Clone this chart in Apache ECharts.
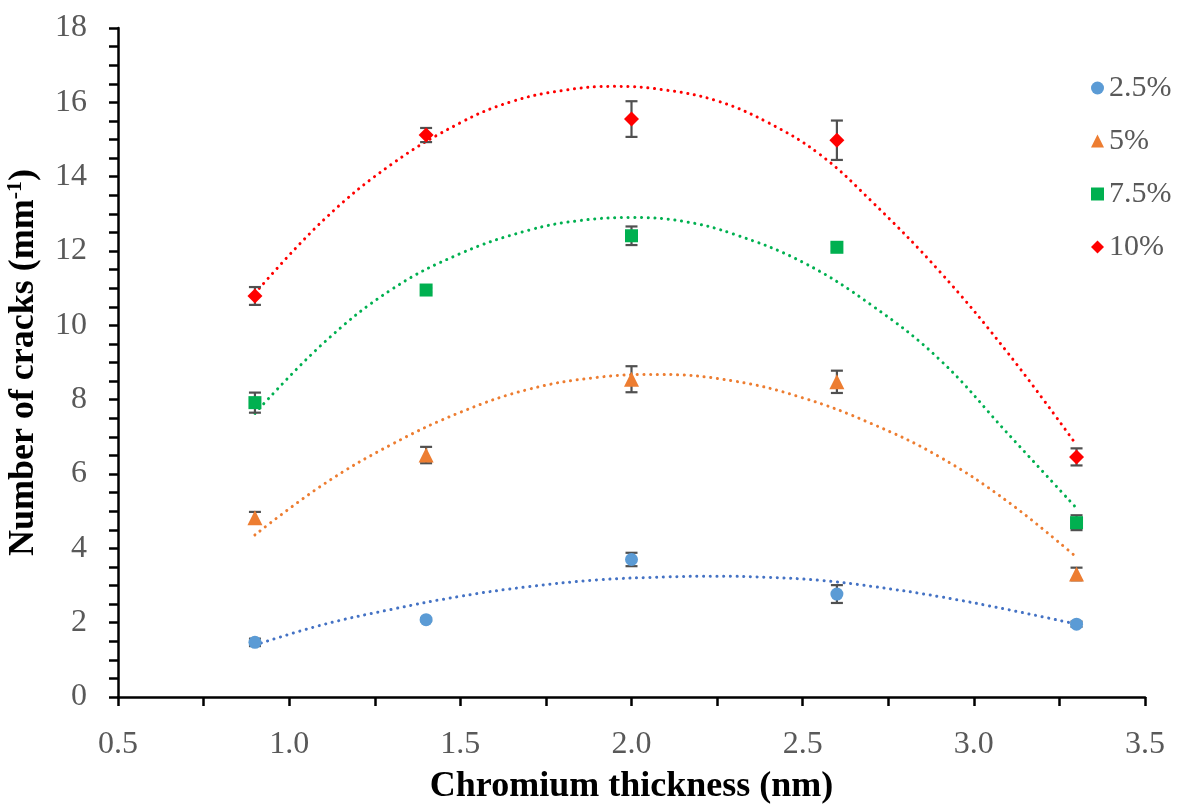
<!DOCTYPE html>
<html>
<head>
<meta charset="utf-8">
<script src="https://cdn.jsdelivr.net/npm/echarts@6/dist/echarts.min.js"></script>
<style>html,body{margin:0;padding:0;background:#fff}#c{width:1184px;height:807px}</style>
</head>
<body>
<div id="c"></div>
<script>
const seriesNames = ['2.5%', '5%', '7.5%', '10%'];
const xValues = [0.9, 1.4, 2.0, 2.6, 3.3];
const y25 = [1.47, 2.08, 3.70, 2.77, 1.96];
const err25 = [0.10, 0.04, 0.18, 0.24, 0.07];
const y5 = [4.82, 6.51, 8.55, 8.48, 3.31];
const err5 = [0.16, 0.22, 0.35, 0.30, 0.17];
const y75 = [7.92, 10.95, 12.41, 12.10, 4.69];
const err75 = [0.27, 0.06, 0.25, 0.10, 0.20];
const y10 = [10.79, 15.12, 15.55, 14.98, 6.46];
const err10 = [0.24, 0.19, 0.48, 0.53, 0.23];

// trend lines
const trend25 = [[0.9,1.40],[1.1,1.95],[1.3,2.36],[1.5,2.71],[1.7,2.97],[1.9,3.15],[2.1,3.23],[2.25,3.25],[2.4,3.22],[2.55,3.14],[2.7,2.98],[2.9,2.70],[3.1,2.35],[3.3,1.96]];
const trend5 = [[0.9,4.36],[1.1,5.72],[1.3,6.80],[1.5,7.66],[1.7,8.28],[1.9,8.60],[2.08,8.68],[2.3,8.50],[2.5,8.05],[2.7,7.36],[2.9,6.46],[3.1,5.25],[3.3,3.76]];
const trend75 = [[0.9,7.63],[1.1,9.52],[1.3,10.97],[1.5,11.93],[1.7,12.56],[1.85,12.82],[2.0,12.90],[2.15,12.80],[2.3,12.45],[2.5,11.70],[2.7,10.55],[2.9,9.08],[3.1,7.08],[3.3,5.08]];
const trend10 = [[0.9,10.86],[1.1,12.83],[1.3,14.34],[1.5,15.45],[1.65,16.02],[1.8,16.32],[1.95,16.43],[2.1,16.33],[2.25,16.04],[2.4,15.45],[2.55,14.60],[2.7,13.35],[2.9,11.45],[3.1,9.25],[3.3,6.78]];

const xTicks = {min: 0.5, max: 3.5, interval: 0.5};
const yTicks = {min: 0, max: 18, interval: 2};

const markerColors = ['#5B9BD5', '#ED7D31', '#00B050', '#FF0000'];
const trendColors = ['#4472C4', '#ED7D31', '#00B050', '#FF0000'];
const symbols = ['circle', 'triangle', 'rect', 'diamond'];
const symbolSizes = [13, 15, 13, 15];
const allY = [y25, y5, y75, y10];
const allErr = [err25, err5, err75, err10];
const allTrend = [trend25, trend5, trend75, trend10];

const serif = 'Liberation Serif';
const series = [];
allTrend.forEach((t, i) => {
  series.push({
    name: seriesNames[i] + ' trend', type: 'line', data: t, smooth: 0.4, showSymbol: false, silent: true,
    lineStyle: {color: trendColors[i], width: 3, type: [0.1, 6.6], cap: 'round'}, z: 2
  });
});
allY.forEach((ys, i) => {
  series.push({
    name: seriesNames[i] + ' err', type: 'custom', silent: true, z: 3,
    data: xValues.map((x, k) => [x, ys[k] - allErr[i][k], ys[k] + allErr[i][k]]),
    renderItem: function (params, api) {
      const x = api.value(0);
      const top = api.coord([x, api.value(2)]);
      const bot = api.coord([x, api.value(1)]);
      const w = 6;
      const st = {stroke: '#505050', lineWidth: 2.2};
      return {type: 'group', children: [
        {type: 'line', shape: {x1: top[0], y1: top[1], x2: bot[0], y2: bot[1]}, style: st},
        {type: 'line', shape: {x1: top[0] - w, y1: top[1], x2: top[0] + w, y2: top[1]}, style: st},
        {type: 'line', shape: {x1: bot[0] - w, y1: bot[1], x2: bot[0] + w, y2: bot[1]}, style: st}
      ]};
    }
  });
});
allY.forEach((ys, i) => {
  series.push({
    name: seriesNames[i], type: 'scatter', z: 4,
    symbol: symbols[i], symbolSize: symbolSizes[i],
    itemStyle: {color: markerColors[i], opacity: 1},
    data: xValues.map((x, k) => [x, ys[k]])
  });
});

const chart = echarts.init(document.getElementById('c'), null, {renderer: 'canvas'});
chart.setOption({
  animation: false,
  backgroundColor: '#ffffff',
  grid: {left: 118, right: 39, top: 28, bottom: 110, containLabel: false, outerBoundsMode: 'none'},
  legend: {
    data: seriesNames.map((n, i) => ({name: n, icon: symbols[i]})),
    orient: 'vertical', left: 1086, top: 67,
    itemWidth: 13, itemHeight: 13, itemGap: 21,
    textStyle: {fontFamily: serif, fontSize: 30, color: '#595959', lineHeight: 32}
  },
  xAxis: {
    type: 'value', min: xTicks.min, max: xTicks.max, interval: xTicks.interval,
    name: 'Chromium thickness (nm)', nameLocation: 'middle', nameGap: 72,
    nameTextStyle: {fontFamily: serif, fontSize: 36, fontWeight: 'bold', color: '#000'},
    axisLine: {lineStyle: {color: '#000', width: 2.5}},
    axisTick: {show: true, length: 9, lineStyle: {color: '#000', width: 2.5}},
    minorTick: {show: true, splitNumber: 2, length: 9, lineStyle: {color: '#000', width: 2.5}},
    splitLine: {show: false},
    axisLabel: {fontFamily: serif, fontSize: 32, color: '#595959', margin: 32, formatter: v => v.toFixed(1)}
  },
  yAxis: {
    type: 'value', min: yTicks.min, max: yTicks.max, interval: yTicks.interval,
    name: '{t|Number of cracks (mm}{s|-1}{t|)}', nameLocation: 'middle', nameGap: 74, nameRotate: 90,
    nameTextStyle: {
      rich: {
        t: {fontFamily: serif, fontSize: 36, fontWeight: 'bold', color: '#000', lineHeight: 40},
        s: {fontFamily: serif, fontSize: 22, fontWeight: 'bold', color: '#000', verticalAlign: 'top', lineHeight: 40, padding: [0, 0, 16, 0]}
      }
    },
    axisLine: {show: true, lineStyle: {color: '#000', width: 2.5}},
    axisTick: {show: true, length: 9, lineStyle: {color: '#000', width: 2.5}},
    minorTick: {show: true, splitNumber: 4, length: 9, lineStyle: {color: '#000', width: 2.5}},
    splitLine: {show: false},
    axisLabel: {fontFamily: serif, fontSize: 32, color: '#595959', margin: 31}
  },
  series: series
});
</script>
</body>
</html>
